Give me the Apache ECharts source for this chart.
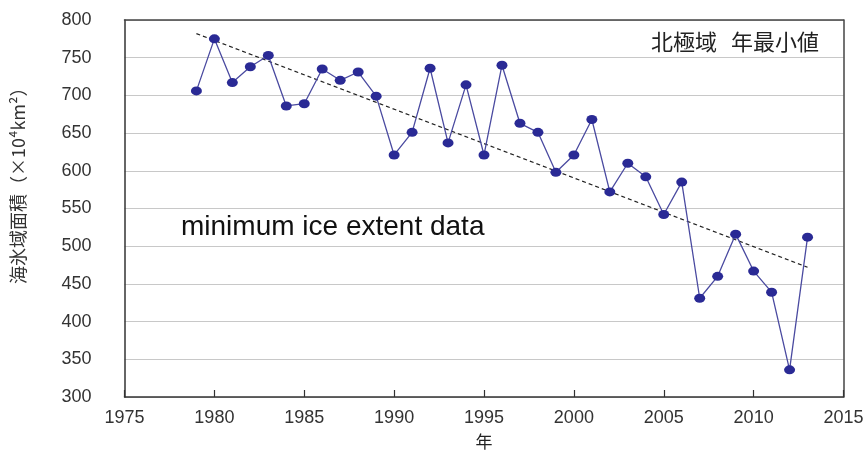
<!DOCTYPE html>
<html>
<head>
<meta charset="utf-8">
<script src="https://cdn.jsdelivr.net/npm/echarts@6/dist/echarts.min.js"></script>
<style>
html,body{margin:0;padding:0;background:#fff;}
#c{width:867px;height:455px;}
</style>
</head>
<body>
<div id="c"></div>
<script>
var years = [1979,1980,1981,1982,1983,1984,1985,1986,1987,1988,1989,1990,1991,1992,1993,1994,1995,1996,1997,1998,1999,2000,2001,2002,2003,2004,2005,2006,2007,2008,2009,2010,2011,2012,2013];
var extent = [706,775,717,738,753,686,689,735,720,731,699,621,651,736,637,714,621,740,663,651,598,621,668,572,610,592,542,585,431,460,516,467,439,336,512];
var trendYears = [1979, 2013];
var trendValues = [782, 472];
var yTicks = {min: 300, max: 800, interval: 50};
var xTicks = {min: 1975, max: 2015, interval: 5};

var chart = echarts.init(document.getElementById('c'));
var font = '"Liberation Sans", Arial, sans-serif';
var cjk = '"Noto Sans CJK JP", "Noto Sans", sans-serif';
var option = {
  animation: false,
  backgroundColor: '#fff',
  grid: {left: 124.5, right: 23.5, top: 20, bottom: 55},
  xAxis: [{
    type: 'value', min: xTicks.min, max: xTicks.max, interval: xTicks.interval,
    name: '年', nameLocation: 'middle', nameGap: 36,
    nameTextStyle: {fontFamily: cjk, fontSize: 17, color: '#222'},
    axisLine: {show: true, lineStyle: {color: '#333', width: 1.5}},
    axisTick: {show: true, inside: true, length: 7, lineStyle: {color: '#333', width: 1.2}},
    axisLabel: {fontFamily: font, fontSize: 18, color: '#333', margin: 12,
      formatter: function (v) { return String(v); }},
    splitLine: {show: false}
  }, {
    type: 'value', position: 'top', min: xTicks.min, max: xTicks.max,
    axisLine: {show: true, lineStyle: {color: '#444', width: 1.5}},
    axisTick: {show: false}, axisLabel: {show: false}, splitLine: {show: false}
  }],
  yAxis: [{
    type: 'value', min: yTicks.min, max: yTicks.max, interval: yTicks.interval,
    axisLine: {show: true, lineStyle: {color: '#333', width: 1.5}},
    axisTick: {show: false},
    axisLabel: {fontFamily: font, fontSize: 18, color: '#333', margin: 33},
    splitLine: {show: true, lineStyle: {color: '#c8c8c8', width: 1.2}}
  }, {
    type: 'value', position: 'right', min: yTicks.min, max: yTicks.max,
    axisLine: {show: true, lineStyle: {color: '#444', width: 1.5}},
    axisTick: {show: false}, axisLabel: {show: false}, splitLine: {show: false}
  }],
  graphic: [
    {type: 'text', left: 181, top: 213, style: {text: 'minimum ice extent data', fontFamily: font, fontSize: 28, fill: '#111'}},
    {type: 'text', left: 651, top: 31, style: {text: '北極域', fontFamily: cjk, fontSize: 22, fill: '#222'}},
    {type: 'text', left: 731, top: 31, style: {text: '年最小値', fontFamily: cjk, fontSize: 22, fill: '#222'}},
    {type: 'text', x: 9, y: 284, rotation: Math.PI / 2, style: {text: '海氷域面積（×10⁴km²）', fontFamily: cjk, fontSize: 18, fill: '#333', textVerticalAlign: 'top'}}
  ],
  series: [{
    type: 'line', xAxisIndex: 0, yAxisIndex: 0,
    data: years.map(function (y, i) { return [y, extent[i]]; }),
    symbol: 'circle', symbolSize: [11, 9],
    itemStyle: {color: '#2a2a95'},
    lineStyle: {color: '#4a4aa0', width: 1.3}
  }, {
    type: 'line', xAxisIndex: 0, yAxisIndex: 0,
    data: trendYears.map(function (y, i) { return [y, trendValues[i]]; }),
    symbol: 'none', z: 1,
    lineStyle: {color: '#222', width: 1.2, type: [4, 3]}
  }]
};
chart.setOption(option);
</script>
</body>
</html>
